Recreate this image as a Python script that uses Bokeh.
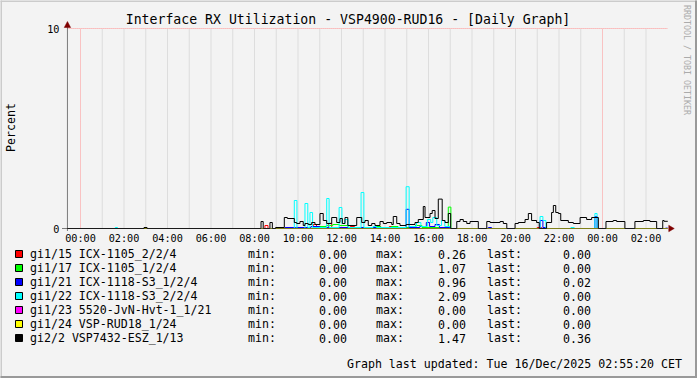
from bokeh.plotting import figure
from bokeh.models import LinearAxis, FixedTicker, Range1d
from bokeh.core.properties import value
from bokeh.embed import file_html
from bokeh.resources import INLINE

# ---------------- data ----------------
hour_ticks = [0, 2, 4, 6, 8, 10, 12, 14, 16, 18, 20, 22, 24, 26]
hour_labels = ["00:00", "02:00", "04:00", "06:00", "08:00", "10:00", "12:00",
               "14:00", "16:00", "18:00", "20:00", "22:00", "00:00", "02:00"]
grid_hours = list(range(0, 27))
midnight_hours = [0, 24]
y_ticks = [0, 10]
y_top = 10
t_start, t_end = -0.6, 27.0   # hours relative to 15/Dec 00:00

red_t = [-0.6, 8.48, 8.62, 10.70, 10.85, 11.40, 11.55, 12.40, 12.60, 13.60, 13.80, 14.20, 14.35, 21.00, 21.20]
red_v = [0, 0.15, 0, 0.20, 0.05, 0.26, 0.05, 0.10, 0, 0.10, 0, 0.10, 0, 0.05, 0]

green_t = [-0.6, 10.9, 11.3, 11.6, 11.9, 12.3, 13.5, 13.8, 14.3, 14.6, 15.4, 15.7, 16.91, 17.03]
green_v = [0, 0.10, 0.15, 0.20, 0.15, 0.05, 0.10, 0.05, 0.10, 0.05, 0.15, 0.05, 1.07, 0]

blue_t = [-0.6, 9.4, 9.9, 10.6, 11.0, 11.5, 12.0, 12.6, 13.0, 14.97, 15.11, 15.6, 15.9, 16.05,
          16.3, 16.5, 17.0, 18.75, 18.9, 21.13, 21.26, 21.4, 23.65, 23.75, 26.9]
blue_v = [0, 0.05, 0.05, 0.10, 0.05, 0.05, 0.05, 0.05, 0.05, 0.96, 0.05, 0.10, 0.30, 0.10,
          0.20, 0.05, 0, 0.05, 0, 0.40, 0.05, 0, 0.60, 0, 0.02]

cyan_t = [-0.6, 1.60, 1.70, 9.83, 9.95, 10.32, 10.45, 10.55, 10.67, 11.32, 11.43, 11.89, 12.02,
          12.16, 12.30, 12.90, 13.03, 13.45, 13.60, 14.97, 15.11, 15.45, 15.65, 15.95, 16.10,
          16.20, 16.38, 16.60, 16.75, 17.00, 21.13, 21.26, 21.40, 22.55, 22.70, 23.65, 23.75]
cyan_v = [0, 0.05, 0, 1.40, 0, 1.25, 0.05, 0.80, 0.05, 1.50, 0.05, 1.05, 0.25,
          0.45, 0.05, 1.80, 0.05, 0.10, 0.05, 2.09, 0.10, 0.30, 0.10, 0.45, 0.30,
          0.55, 0.15, 0.40, 0.10, 0, 0.60, 0.40, 0, 0.05, 0, 0.75, 0]

magenta_t = [-0.6]
magenta_v = [0]

yellow_t = [-0.6]
yellow_v = [0]

black_t = [-0.6, 2.92, 3.06, 8.30, 8.40, 8.71, 8.82, 8.97, 9.37, 9.51, 9.83, 9.94, 10.09, 10.24,
           10.32, 10.47, 10.63, 10.78, 11.01, 11.16, 11.32, 11.55, 11.78, 11.93, 12.04, 12.16,
           12.29, 12.70, 12.93, 13.08, 13.23, 13.39, 13.54, 13.77, 13.92, 14.08, 14.31, 14.38,
           14.54, 14.69, 14.97, 15.11, 15.38, 15.53, 15.76, 15.84, 16.07, 16.17, 16.30, 16.45,
           16.63, 16.76, 16.91, 17.02, 17.30, 17.45, 17.60, 17.76, 17.91, 18.29, 18.68, 18.83,
           19.29, 19.44, 19.60, 19.98, 20.13, 20.44, 20.59, 20.74, 20.97, 21.09, 21.43, 21.66,
           21.74, 21.85, 21.97, 22.08, 22.43, 22.66, 22.97, 23.27, 23.50, 23.81, 24.16, 24.49,
           24.65, 25.03, 25.49, 25.88, 26.18, 26.49, 26.77, 26.83]
black_v = [0, 0.05, 0, 0.35, 0, 0.30, 0, 0.05, 0.55, 0.50, 0.30, 0.25, 0.35, 0.15,
           0.25, 0.20, 0.30, 0.20, 0.75, 0.40, 0.25, 0.55, 0.30, 0.50, 0.25, 0.55,
           0.15, 0.55, 0.30, 0.40, 0.15, 0.25, 0.15, 0.35, 0.25, 0.30, 0.20, 0.60,
           0.25, 0.15, 0.20, 0.20, 0.30, 0.45, 1.10, 0.55, 0.75, 0.90, 0.50, 1.47,
           0.40, 0.30, 0.75, 0, 0.35, 0.45, 0.35, 0.25, 0.35, 0, 0.35, 0.30,
           0.35, 0.25, 0, 0.25, 0.30, 0.45, 0.75, 0.40, 0.30, 0, 0.30, 0.80,
           1.15, 0.80, 0.75, 0.40, 0.30, 0.25, 0.55, 0.45, 0.55, 0, 0.35, 0.40,
           0.35, 0, 0.35, 0.40, 0.35, 0, 0.40, 0.36]

names = ["gi1/15 ICX-1105_2/2/4", "gi1/17 ICX-1105_1/2/4", "gi1/21 ICX-1118-S3_1/2/4",
         "gi1/22 ICX-1118-S3_2/2/4", "gi1/23 5520-JvN-Hvt-1_1/21", "gi1/24 VSP-RUD18_1/24",
         "gi2/2 VSP7432-ESZ_1/13"]
colors = ["#FF0000", "#00FF00", "#0000FF", "#00FFFF", "#FF00FF", "#FFFF00", "#000000"]
mins = ["0.00", "0.00", "0.00", "0.00", "0.00", "0.00", "0.00"]
maxs = ["0.26", "1.07", "0.96", "2.09", "0.00", "0.00", "1.47"]
lasts = ["0.00", "0.00", "0.02", "0.00", "0.00", "0.00", "0.36"]

title_text = "Interface RX Utilization - VSP4900-RUD16 - [Daily Graph]"
unit_text = "Percent"
footer_text = "Graph last updated: Tue 16/Dec/2025 02:55:20 CET"
watermark_text = "RRDTOOL / TOBI OETIKER"

# ---------------- layout (pixels) ----------------
W, H = 697, 378
X0, PXH = 80.0, 21.75        # mapped pixel of 00:00, pixels per hour
Y0, PXV = 228.0, 20.0        # mapped pixel of 0 %, pixels per percent
OFF = 0.5                    # drawing offset of the svg canvas
FONT = "DejaVu Sans Mono"
BACK = "#F3F3F3"
AXIS = "#2C2C2C"
AXIS_ALPHA = 0.6
ARROW = "#7F0000"


def hx(px):
    """data x for a drawn pixel position"""
    return (px - OFF - X0) / PXH


def vy(py):
    """data y for a drawn pixel position"""
    return (Y0 - (py - OFF)) / PXV


p = figure(width=W, height=H,
           x_range=Range1d((0 - X0) / PXH, (W - X0) / PXH),
           y_range=Range1d((Y0 - H) / PXV, Y0 / PXV),
           min_border=0, min_border_left=0, min_border_right=0, min_border_top=0, min_border_bottom=0,
           output_backend="svg", toolbar_location=None, title=None,
           x_axis_location=None, y_axis_location=None,
           background_fill_color=BACK, border_fill_color=BACK)
p.outline_line_color = None
p.grid.visible = False

# 3-D frame of the image
p.quad(left=[hx(0), hx(0), hx(W - 2), hx(0)], right=[hx(W), hx(2), hx(W), hx(W)],
       top=[vy(0), vy(0), vy(0), vy(H - 2)], bottom=[vy(2), vy(H), vy(H), vy(H)],
       fill_color=["#CBCBCB", "#CBCBCB", "#999999", "#999999"], line_color=None)

# grid
minor_h = [h for h in grid_hours if h not in midnight_hours]
p.segment(x0=minor_h, y0=[0] * len(minor_h), x1=minor_h, y1=[y_top] * len(minor_h),
          line_color="#C6C6C6", line_width=1, line_dash="1 1")
p.segment(x0=midnight_hours, y0=[0] * len(midnight_hours), x1=midnight_hours,
          y1=[y_top] * len(midnight_hours), line_color="#FF9090", line_width=1, line_dash="1 1")
p.segment(x0=[t_start], y0=[y_top], x1=[t_end], y1=[y_top],
          line_color="#FF9090", line_width=1, line_dash="1 1")


def steps(t, v):
    return list(t) + [t_end], list(v) + [v[-1]]


series = [(red_t, red_v), (green_t, green_v), (blue_t, blue_v), (cyan_t, cyan_v),
          (magenta_t, magenta_v), (yellow_t, yellow_v), (black_t, black_v)]
for (t, v), c in zip(series, colors):
    xs, ys = steps(t, v)
    p.step(xs, ys, mode="after", line_color=c, line_width=1)

# axis lines, drawn over the data
p.segment(x0=[hx(62)], y0=[0], x1=[t_end], y1=[0], line_color=AXIS, line_alpha=AXIS_ALPHA, line_width=1)
p.segment(x0=[t_start], y0=[vy(231)], x1=[t_start], y1=[vy(27)], line_color=AXIS,
          line_alpha=AXIS_ALPHA, line_width=1)

# arrows
ax_px = X0 + OFF + PXH * t_start
ex_px = X0 + OFF + PXH * t_end
zy_px = Y0 + OFF
p.patch([hx(ax_px - 3.2), hx(ax_px + 3.2), hx(ax_px)], [vy(27.5), vy(27.5), vy(21.5)],
        fill_color=ARROW, line_color=ARROW, line_width=0.5)
p.patch([hx(ex_px + 1), hx(ex_px + 1), hx(ex_px + 6.5)], [vy(zy_px - 3.2), vy(zy_px + 3.2), vy(zy_px)],
        fill_color=ARROW, line_color=ARROW, line_width=0.5)

# the library's axes, pinned inside the frame
xaxis = LinearAxis(fixed_location=0, ticker=FixedTicker(ticks=hour_ticks),
                   major_label_overrides={h: s for h, s in zip(hour_ticks, hour_labels)})
yaxis = LinearAxis(fixed_location=t_start, ticker=FixedTicker(ticks=y_ticks))
for ax in (xaxis, yaxis):
    ax.axis_line_color = None
    ax.major_tick_line_color = None
    ax.minor_tick_line_color = None
    ax.major_tick_in = 0
    ax.major_tick_out = 0
    ax.major_label_text_font = FONT
    ax.major_label_text_font_size = "10.2px"
    ax.major_label_text_color = "#000000"
xaxis.major_label_standoff = 4
yaxis.major_label_standoff = 8
p.add_layout(xaxis, "below")
p.add_layout(yaxis, "left")


# texts
def txt(px, py, s, size, align="left", angle=0.0, color="#000000"):
    p.text(x=[hx(px)], y=[vy(py)], text=[s], text_font=value(FONT), text_font_size=value(size),
           text_align=align, text_baseline="middle", angle=angle, text_color=color)


txt(348, 19, title_text, "13.2px", "center")
txt(11, 127.5, unit_text, "11.6px", "center", angle=1.5708)
txt(687, 5, watermark_text, "8.3px", "left", angle=-1.5708, color="#ABABAB")

row0, drow = 254, 14
rows_y = [row0 + i * drow for i in range(len(names))]
p.quad(left=[hx(15.5)] * len(names), right=[hx(22.5)] * len(names),
       top=[vy(y - 3.5) for y in rows_y], bottom=[vy(y + 3.5) for y in rows_y],
       fill_color=colors, line_color="#000000", line_width=1)
for col, px, al in [(names, 30, "left"), (["min:"] * 7, 248, "left"), (mins, 347, "right"),
                    (["max:"] * 7, 376, "left"), (maxs, 466, "right"),
                    (["last:"] * 7, 487, "left"), (lasts, 591, "right")]:
    p.text(x=[hx(px)] * len(col), y=[vy(y) for y in rows_y], text=col, text_font=value(FONT),
           text_font_size=value("11.6px"), text_align=al, text_baseline="middle", text_color="#000000")

txt(682, 364, footer_text, "11.6px", "right")

open("out.html", "w").write(file_html(p, INLINE))
